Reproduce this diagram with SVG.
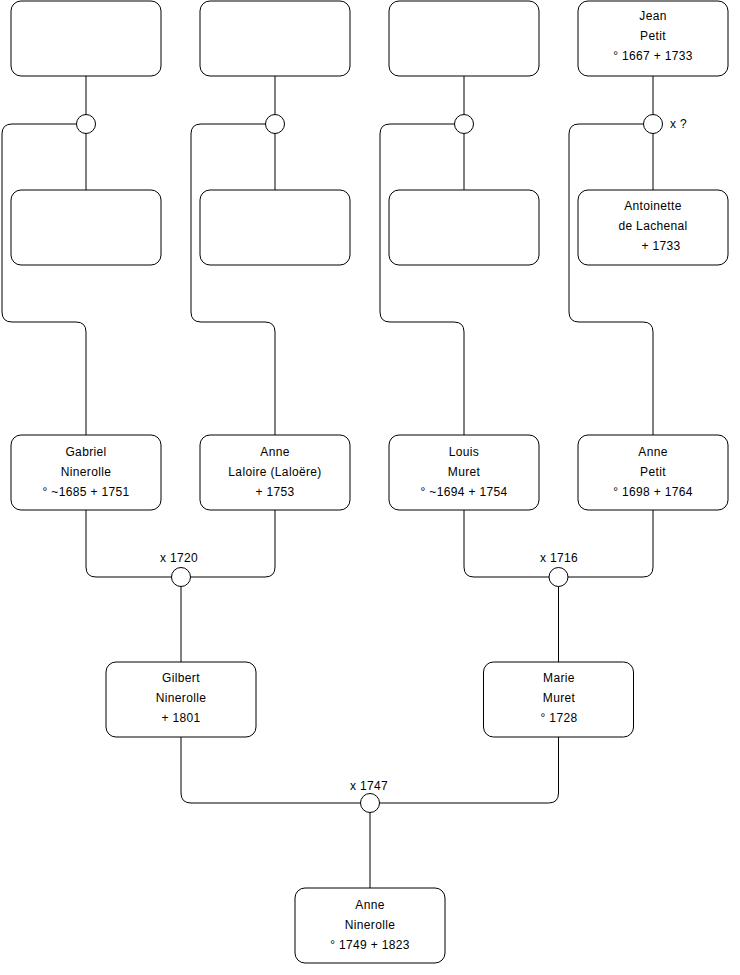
<svg xmlns="http://www.w3.org/2000/svg" width="740" height="975" viewBox="0 0 740 975">
<style>
.box{fill:#fff;stroke:#000;stroke-width:1}
.ring{fill:#fff;stroke:#000;stroke-width:1}
.wire{fill:none;stroke:#000;stroke-width:1}
text{font-family:"Liberation Sans",Arial,sans-serif;font-size:12px;letter-spacing:0.35px;fill:#000}
.c{text-anchor:middle}
</style>
<rect width="740" height="975" fill="#fff"/>
<g id="connectors">
<path class="wire" d="M86 76V190M275 76V190M464 76V190M653 76V190"/>
<path class="wire" d="M76.5 124H12Q2 124 2 134V312Q2 322 12 322H76Q86 322 86 332V435"/>
<path class="wire" d="M265.5 124H201Q191 124 191 134V312Q191 322 201 322H265Q275 322 275 332V435"/>
<path class="wire" d="M454.5 124H390Q380 124 380 134V312Q380 322 390 322H454Q464 322 464 332V435"/>
<path class="wire" d="M643.5 124H579Q569 124 569 134V312Q569 322 579 322H643Q653 322 653 332V435"/>
<path class="wire" d="M86 510V567Q86 577 96 577H265Q275 577 275 567V510M181 577V662"/>
<path class="wire" d="M464 510V567Q464 577 474 577H643Q653 577 653 567V510M558.5 577V662"/>
<path class="wire" d="M181 737V793Q181 803 191 803H548.5Q558.5 803 558.5 793V737M370 803V888"/>
</g>
<g id="top1"><rect class="box" x="11" y="1" width="150" height="75" rx="10"/></g>
<g id="top2"><rect class="box" x="200" y="1" width="150" height="75" rx="10"/></g>
<g id="top3"><rect class="box" x="389" y="1" width="150" height="75" rx="10"/></g>
<g id="jean-petit"><rect class="box" x="578" y="1" width="150" height="75" rx="10"/>
<text class="c" x="653" y="20">Jean</text><text class="c" x="653" y="40">Petit</text><text class="c" x="653" y="60">° 1667 + 1733</text></g>
<g id="m1"><circle class="ring" cx="86" cy="124" r="9.5"/></g>
<g id="m2"><circle class="ring" cx="275" cy="124" r="9.5"/></g>
<g id="m3"><circle class="ring" cx="464" cy="124" r="9.5"/></g>
<g id="m4"><circle class="ring" cx="653" cy="124" r="9.5"/><text x="670" y="128">x ?</text></g>
<g id="mid1"><rect class="box" x="11" y="190" width="150" height="75" rx="10"/></g>
<g id="mid2"><rect class="box" x="200" y="190" width="150" height="75" rx="10"/></g>
<g id="mid3"><rect class="box" x="389" y="190" width="150" height="75" rx="10"/></g>
<g id="antoinette"><rect class="box" x="578" y="190" width="150" height="75" rx="10"/>
<text class="c" x="653" y="209.5">Antoinette</text><text class="c" x="653" y="230">de Lachenal</text><text class="c" x="661" y="250">+ 1733</text></g>
<g id="gabriel"><rect class="box" x="11" y="435" width="150" height="75" rx="10"/>
<text class="c" x="86" y="455.5">Gabriel</text><text class="c" x="86" y="475.5">Ninerolle</text><text class="c" x="86" y="495.5">° ~1685 + 1751</text></g>
<g id="anne-laloire"><rect class="box" x="200" y="435" width="150" height="75" rx="10"/>
<text class="c" x="275" y="455.5">Anne</text><text class="c" x="275" y="475.5">Laloire (Laloëre)</text><text class="c" x="275" y="495.5">+ 1753</text></g>
<g id="louis"><rect class="box" x="389" y="435" width="150" height="75" rx="10"/>
<text class="c" x="464" y="455.5">Louis</text><text class="c" x="464" y="475.5">Muret</text><text class="c" x="464" y="495.5">° ~1694 + 1754</text></g>
<g id="anne-petit"><rect class="box" x="578" y="435" width="150" height="75" rx="10"/>
<text class="c" x="653" y="455.5">Anne</text><text class="c" x="653" y="475.5">Petit</text><text class="c" x="653" y="495.5">° 1698 + 1764</text></g>
<g id="m1720"><circle class="ring" cx="181" cy="577" r="9.5"/><text class="c" x="179" y="562">x 1720</text></g>
<g id="m1716"><circle class="ring" cx="558.5" cy="577" r="9.5"/><text class="c" x="559" y="562">x 1716</text></g>
<g id="gilbert"><rect class="box" x="106" y="662" width="150" height="75" rx="10"/>
<text class="c" x="181" y="682">Gilbert</text><text class="c" x="181" y="702">Ninerolle</text><text class="c" x="181" y="722">+ 1801</text></g>
<g id="marie"><rect class="box" x="483.5" y="662" width="150" height="75" rx="10"/>
<text class="c" x="559" y="682">Marie</text><text class="c" x="559" y="702">Muret</text><text class="c" x="559" y="722">° 1728</text></g>
<g id="m1747"><circle class="ring" cx="370" cy="803" r="9.5"/><text class="c" x="369" y="790">x 1747</text></g>
<g id="anne-ninerolle"><rect class="box" x="295" y="888" width="150" height="75" rx="10"/>
<text class="c" x="370" y="908.5">Anne</text><text class="c" x="370" y="928.5">Ninerolle</text><text class="c" x="370" y="948.5">° 1749 + 1823</text></g>
</svg>
